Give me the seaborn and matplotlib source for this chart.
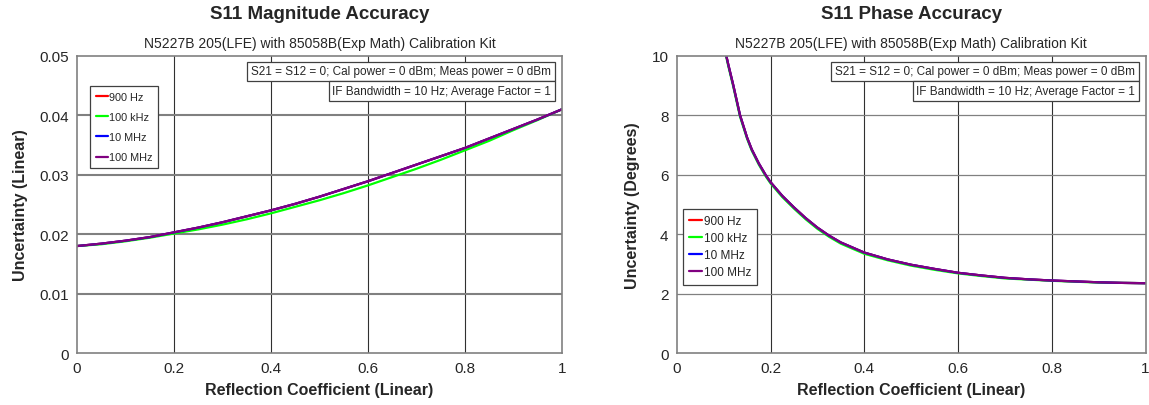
"""
S11 magnitude / phase accuracy curves (N5227B + 85058B cal kit), read off the datasheet plot.
"""
import numpy as np
import pandas as pd
import matplotlib
matplotlib.use("Agg")
import matplotlib.pyplot as plt
import seaborn as sns

# --- data ---
freqs = ["900 Hz", "100 kHz", "10 MHz", "100 MHz"]
colors = ["#ff0000", "#00ff00", "#0000ff", "#800080"]

mag_x = [0.0, 0.05, 0.1, 0.15, 0.2, 0.25, 0.3, 0.35, 0.4, 0.45, 0.5,
         0.55, 0.6, 0.65, 0.7, 0.75, 0.8, 0.85, 0.9, 0.95, 1.0]
mag_900hz = [0.0180, 0.0184, 0.0189, 0.0195, 0.0203, 0.0211, 0.0220, 0.0230, 0.0240, 0.0251, 0.0263,
             0.0276, 0.0289, 0.0303, 0.0317, 0.0331, 0.0345, 0.0361, 0.0377, 0.0393, 0.0410]
mag_100khz = [0.0180, 0.0183, 0.0188, 0.0194, 0.0201, 0.0208, 0.0216, 0.0225, 0.0235, 0.0246, 0.0257,
              0.0269, 0.0282, 0.0296, 0.0310, 0.0325, 0.0341, 0.0357, 0.0375, 0.0392, 0.0410]
mag_10mhz = [0.0180, 0.0184, 0.0189, 0.0195, 0.0203, 0.0211, 0.0220, 0.0230, 0.0240, 0.0251, 0.0263,
             0.0276, 0.0289, 0.0303, 0.0317, 0.0331, 0.0345, 0.0361, 0.0377, 0.0393, 0.0410]
mag_100mhz = [0.0180, 0.0184, 0.0189, 0.0195, 0.0203, 0.0211, 0.0220, 0.0230, 0.0240, 0.0251, 0.0263,
              0.0276, 0.0289, 0.0303, 0.0317, 0.0331, 0.0345, 0.0361, 0.0377, 0.0393, 0.0410]

ph_x = [0.10, 0.11, 0.12, 0.135, 0.15, 0.16, 0.175, 0.19, 0.2, 0.225, 0.25, 0.275, 0.3, 0.325,
        0.35, 0.4, 0.45, 0.5, 0.55, 0.6, 0.65, 0.7, 0.75, 0.8, 0.85, 0.9, 0.95, 1.0]
ph_900hz = [10.4, 9.7, 9.05, 8.0, 7.25, 6.85, 6.38, 5.98, 5.75, 5.29, 4.90, 4.54, 4.22, 3.95,
            3.72, 3.38, 3.15, 2.97, 2.83, 2.70, 2.61, 2.53, 2.48, 2.44, 2.41, 2.38, 2.36, 2.35]
ph_100khz = [10.35, 9.65, 9.0, 7.95, 7.21, 6.81, 6.34, 5.94, 5.71, 5.25, 4.86, 4.50, 4.18, 3.91,
             3.68, 3.34, 3.12, 2.94, 2.80, 2.68, 2.59, 2.51, 2.47, 2.43, 2.40, 2.37, 2.36, 2.35]
ph_10mhz = [10.4, 9.7, 9.05, 8.0, 7.25, 6.85, 6.38, 5.98, 5.75, 5.29, 4.90, 4.54, 4.22, 3.95,
            3.72, 3.38, 3.15, 2.97, 2.83, 2.70, 2.61, 2.53, 2.48, 2.44, 2.41, 2.38, 2.36, 2.35]
ph_100mhz = [10.4, 9.7, 9.05, 8.0, 7.25, 6.85, 6.38, 5.98, 5.75, 5.29, 4.90, 4.54, 4.22, 3.95,
             3.72, 3.38, 3.15, 2.97, 2.83, 2.70, 2.61, 2.53, 2.48, 2.44, 2.41, 2.38, 2.36, 2.35]

subtitle = "N5227B 205(LFE) with 85058B(Exp Math) Calibration Kit"
note1 = "S21 = S12 = 0; Cal power = 0 dBm; Meas power = 0 dBm"
note2 = "IF Bandwidth = 10 Hz; Average Factor = 1"


def long_frame(x, series):
    parts = [pd.DataFrame({"x": x, "y": ys, "freq": f}) for f, ys in zip(freqs, series)]
    return pd.concat(parts, ignore_index=True)


mag_df = long_frame(mag_x, [mag_900hz, mag_100khz, mag_10mhz, mag_100mhz])
ph_df = long_frame(ph_x, [ph_900hz, ph_100khz, ph_10mhz, ph_100mhz])

sns.set_style("white")
plt.rcParams["font.family"] = ["Liberation Sans", "DejaVu Sans"]

fig = plt.figure(figsize=(11.49, 4.06), dpi=100)
ax1 = fig.add_axes([0.067, 0.128, 0.422, 0.732])
ax2 = fig.add_axes([0.589, 0.128, 0.408, 0.732])
palette = dict(zip(freqs, colors))


def style_axis(ax, df, ylim, yticks, ylabel, title, legend_anchor, fmt, hgrid_lw,
               leg_size, leg_spacing):
    sns.lineplot(data=df, x="x", y="y", hue="freq", hue_order=freqs, palette=palette,
                 linewidth=1.6, sort=False, ax=ax)
    ax.set_xlim(0, 1)
    ax.set_ylim(*ylim)
    ax.set_xticks([0, 0.2, 0.4, 0.6, 0.8, 1.0])
    ax.set_xticklabels(["0", "0.2", "0.4", "0.6", "0.8", "1"])
    ax.set_yticks(yticks)
    ax.set_yticklabels([fmt(v) for v in yticks])
    ax.tick_params(labelsize=11, length=0, pad=6)
    for x in [0.2, 0.4, 0.6, 0.8]:
        ax.axvline(x, color="#303030", lw=0.8, zorder=0.5)
    for y in yticks[1:-1]:
        ax.axhline(y, color="#808080", lw=hgrid_lw, zorder=0.5)
    for s in ax.spines.values():
        s.set_color("#808080")
        s.set_linewidth(1.2)
    ax.set_xlabel("Reflection Coefficient (Linear)", fontsize=11.5, fontweight="bold", labelpad=5)
    ax.set_ylabel(ylabel, fontsize=11.5, fontweight="bold", labelpad=8)
    ax.text(0.5, 1.141, title, transform=ax.transAxes, ha="center", va="center",
            fontsize=13.5, fontweight="bold")
    ax.text(0.5, 1.044, subtitle, transform=ax.transAxes, ha="center", va="center", fontsize=10)
    box = dict(boxstyle="square,pad=0.32", facecolor="white", edgecolor="#404040", linewidth=0.9)
    ax.text(0.978, 0.948, note1, transform=ax.transAxes, ha="right", va="center",
            fontsize=8.5, bbox=box)
    ax.text(0.978, 0.881, note2, transform=ax.transAxes, ha="right", va="center",
            fontsize=8.5, bbox=box)
    leg = ax.legend(loc="upper left", bbox_to_anchor=legend_anchor, fontsize=leg_size,
                    handlelength=1.1, handletextpad=0.1, borderpad=0.55, labelspacing=leg_spacing,
                    fancybox=False, framealpha=1, borderaxespad=0)
    leg.get_frame().set_edgecolor("#404040")
    leg.get_frame().set_linewidth(0.9)


style_axis(ax1, mag_df, (0, 0.05), [0, 0.01, 0.02, 0.03, 0.04, 0.05],
           "Uncertainty (Linear)", "S11 Magnitude Accuracy", (0.027, 0.90),
           lambda v: "0" if v == 0 else f"{v:.2f}", 1.5, 7.8, 0.95)
style_axis(ax2, ph_df, (0, 10), [0, 2, 4, 6, 8, 10],
           "Uncertainty (Degrees)", "S11 Phase Accuracy", (0.013, 0.485),
           lambda v: f"{v:g}", 0.9, 8.5, 0.42)

fig.savefig("out.png", dpi=100)
